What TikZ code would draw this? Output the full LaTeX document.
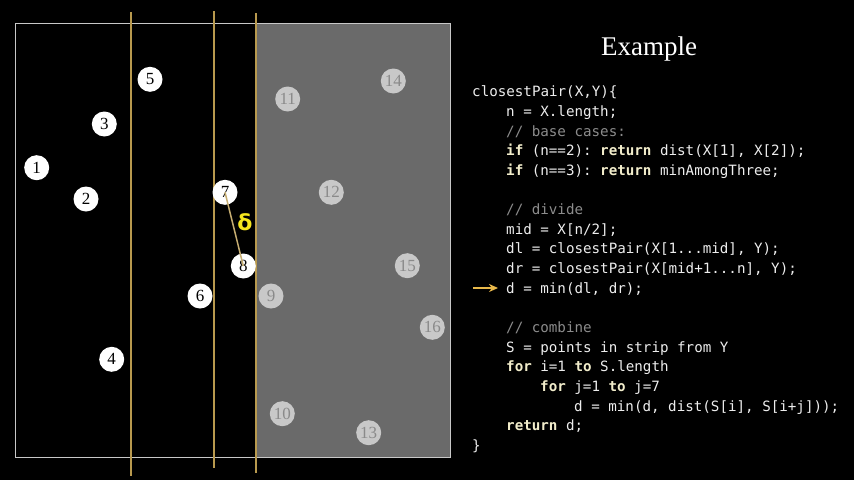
\documentclass[tikz,border=0pt]{standalone}
\usepackage{fontspec}
\setmainfont{Liberation Serif}
\setsansfont{DejaVu Sans}
\setmonofont{DejaVu Sans Mono}
\usetikzlibrary{arrows.meta}

\definecolor{gold}{HTML}{B8994E}
\definecolor{arrowgold}{HTML}{E8B84A}
\definecolor{halfgray}{HTML}{6A6A6A}
\definecolor{ptgray}{HTML}{C8C8C8}
\definecolor{ptnum}{HTML}{8A8A8A}
\definecolor{kwcol}{HTML}{F2EDCB}
\definecolor{cmtcol}{HTML}{8C8C8C}
\definecolor{codecol}{HTML}{EDEDED}
\definecolor{deltacol}{HTML}{F5E61E}

\newcommand{\kw}[1]{\textbf{\color{kwcol}#1}}
\newcommand{\cmt}[1]{{\color{cmtcol}#1}}

\begin{document}
\begin{tikzpicture}[
    x=1pt, y=-1pt,
    pt/.style={circle, fill=white, minimum size=25pt, inner sep=0pt,
               text=black, font=\fontsize{17}{17}\selectfont},
    ptgr/.style={pt, fill=ptgray, text=ptnum},
    divline/.style={draw=gold, line width=1.4pt},
    codeline/.style={anchor=mid west, inner sep=0pt, text=codecol,
                     font=\ttfamily\fontsize{14.2}{19.6}\selectfont},
    arr/.style={-{Stealth[length=9pt, width=8pt]}, draw=arrowgold, line width=2.2pt}
]

%% ===== CANVAS =====
\fill[black] (0,0) rectangle (854,480);

%% ===== POINT SET =====
\fill[halfgray] (256,23) rectangle (450,457);
\draw[ptgray, line width=0.8pt] (15,23) rectangle (450,457);

%% dividing line and strip borders
\draw[divline] (131,12) -- (131,476);
\draw[divline] (214,11) -- (214,468);
\draw[divline] (256,13) -- (256,473);

%% left half
\node[pt] (p1) at (36.7,167.7) {1};
\node[pt] (p2) at (86,199)     {2};
\node[pt] (p3) at (104.3,124)  {3};
\node[pt] (p4) at (111.7,359.3) {4};
\node[pt] (p5) at (150,79.3)   {5};
\node[pt] (p6) at (200,296)    {6};
\node[pt] (p7) at (225,192.3)  {7};
\node[pt] (p8) at (243.3,266)  {8};

%% right half
\node[ptgr] (p9)  at (271,296)     {9};
\node[ptgr] (p10) at (282.3,413.7) {10};
\node[ptgr] (p11) at (287.7,99)    {11};
\node[ptgr] (p12) at (331.3,192.3) {12};
\node[ptgr] (p13) at (368.7,432.7) {13};
\node[ptgr] (p14) at (393.3,81)    {14};
\node[ptgr] (p15) at (407.3,265.7) {15};
\node[ptgr] (p16) at (432.3,327.3) {16};

%% closest pair on the left
\draw[gold!80!white, line width=1.5pt] (p7.center) -- (p8.center);
\node[text=deltacol, font=\sffamily\bfseries\fontsize{22}{22}\selectfont] (delta) at (245,222) {δ};

%% ===== CODE =====
\node[text=white, font=\fontsize{27}{27}\selectfont] (title) at (649,49) {Example};

\node[codeline] (c1)  at (472,94)    {closestPair(X,Y)\{};
\node[codeline] (c2)  at (506,114)   {n = X.length;};
\node[codeline] (c3)  at (506,134)   {\cmt{// base cases:}};
\node[codeline] (c4)  at (506,153.5) {\kw{if} (n==2): \kw{return} dist(X[1], X[2]);};
\node[codeline] (c5)  at (506,173)   {\kw{if} (n==3): \kw{return} minAmongThree;};
\node[codeline] (c7)  at (506,212.5) {\cmt{// divide}};
\node[codeline] (c8)  at (506,232)   {mid = X[n/2];};
\node[codeline] (c9)  at (506,251.5) {dl = closestPair(X[1...mid], Y);};
\node[codeline] (c10) at (506,271)   {dr = closestPair(X[mid+1...n], Y);};
\node[codeline] (c11) at (506,291)   {d = min(dl, dr);};
\node[codeline] (c13) at (506,330)   {\cmt{// combine}};
\node[codeline] (c14) at (506,350)   {S = points in strip from Y};
\node[codeline] (c15) at (506,369.5) {\kw{for} i=1 \kw{to} S.length};
\node[codeline] (c16) at (540,389)   {\kw{for} j=1 \kw{to} j=7};
\node[codeline] (c17) at (574,409)   {d = min(d, dist(S[i], S[i+j]));};
\node[codeline] (c18) at (506,428.5) {\kw{return} d;};
\node[codeline] (c19) at (472,448)   {\}};

%% current line marker
\coordinate (arrtail) at (473,288);
\draw[arr] (arrtail) -- ([xshift=-8pt]c11.mid west |- arrtail);

\end{tikzpicture}
\end{document}
